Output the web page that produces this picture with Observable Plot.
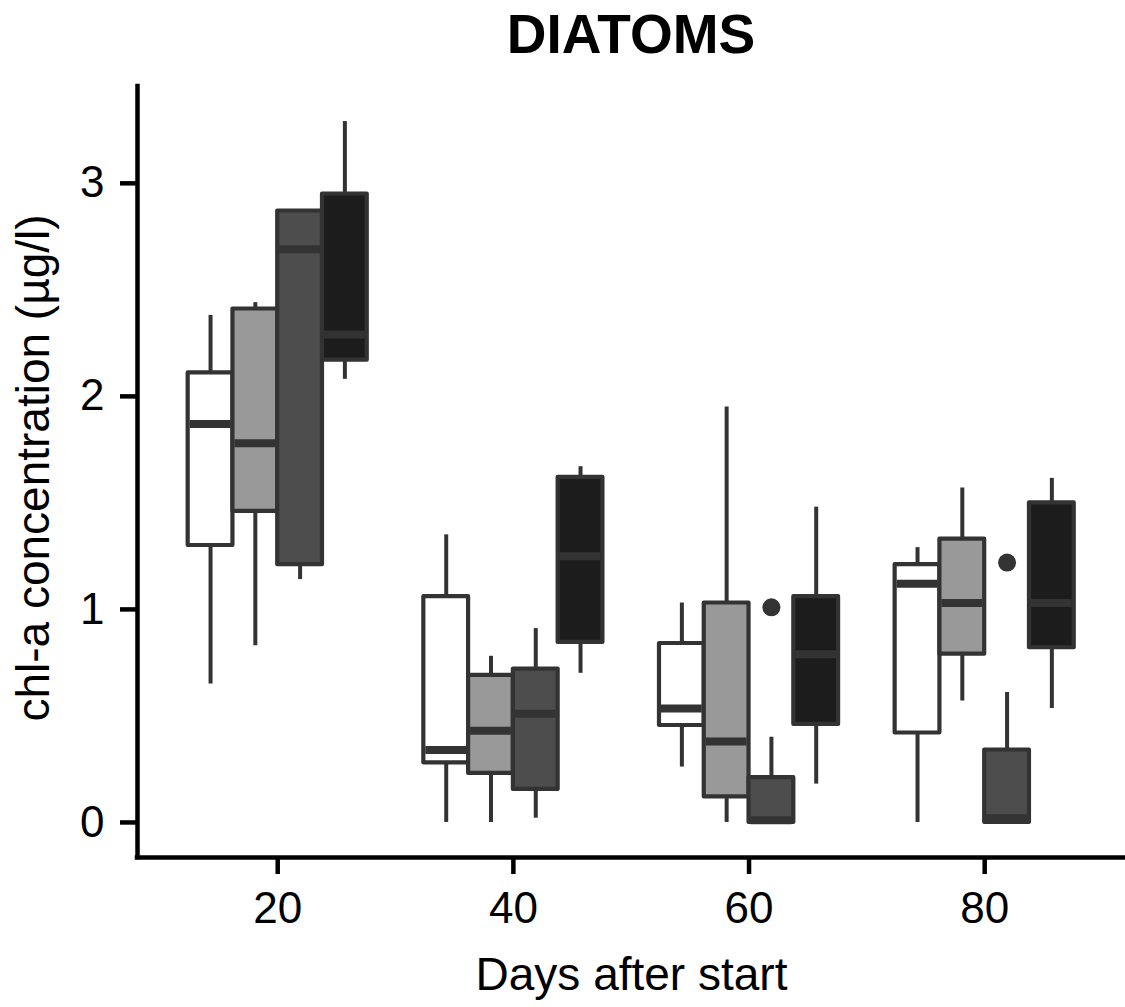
<!DOCTYPE html>
<html>
<head>
<meta charset="utf-8">
<script src="https://cdn.jsdelivr.net/npm/d3@7"></script>
<script src="https://cdn.jsdelivr.net/npm/@observablehq/plot@0.6"></script>
<style>
  html, body { margin: 0; padding: 0; background: #fff; }
  #wrap { width: 1125px; height: 1007px; position: relative; overflow: hidden; }
  #title {
    height: 75px; line-height: 68px; box-sizing: border-box;
    padding-left: 137px; text-align: center;
    font-family: "Liberation Sans", Arial, sans-serif; font-weight: bold; font-size: 55px; color: #000;
  }
  svg { display: block; }
</style>
</head>
<body>
<div id="wrap">
  <div id="title">DIATOMS</div>
  <div id="chart"></div>
</div>
<script>
// ---- data (rows = days, columns = treatments) ----
const days = [20, 40, 60, 80];
const treatments = ["T1", "T2", "T3", "T4"];
const whiskerLow = [
  [0.65, 0.83, 1.14, 2.08],
  [0.00, 0.00, 0.02, 0.70],
  [0.26, 0.00, 0.00, 0.18],
  [0.00, 0.57, 0.00, 0.535]
];
const quartile1 = [
  [1.30, 1.46, 1.21, 2.17],
  [0.28, 0.23, 0.155, 0.845],
  [0.455, 0.12, 0.00, 0.46],
  [0.42, 0.79, 0.00, 0.82]
];
const medians = [
  [1.87, 1.78, 2.69, 2.29],
  [0.34, 0.43, 0.51, 1.25],
  [0.535, 0.38, 0.01, 0.79],
  [1.12, 1.03, 0.02, 1.03]
];
const quartile3 = [
  [2.11, 2.41, 2.87, 2.95],
  [1.06, 0.69, 0.72, 1.62],
  [0.84, 1.03, 0.21, 1.06],
  [1.21, 1.33, 0.34, 1.50]
];
const whiskerHigh = [
  [2.38, 2.44, 2.87, 3.29],
  [1.35, 0.78, 0.91, 1.67],
  [1.03, 1.95, 0.40, 1.48],
  [1.29, 1.57, 0.61, 1.615]
];
const outlierDays = [60, 80];
const outlierTreatments = ["T3", "T3"];
const outlierValues = [1.01, 1.22];
const xTicks = [20, 40, 60, 80];
const yTicks = [0, 1, 2, 3];
const titleText = "DIATOMS";
const xLabel = "Days after start";
const yLabel = "chl-a concentration (µg/l)";

// ---- build table ----
const boxW = 3.8; // dodge width in x units
const nT = treatments.length;
const off = ti => (ti - (nT - 1) / 2) * boxW;
const boxes = [];
days.forEach((d, di) => treatments.forEach((t, ti) => boxes.push({
  day: d, treatment: t, xc: d + off(ti),
  lo: whiskerLow[di][ti], q1: quartile1[di][ti], med: medians[di][ti],
  q3: quartile3[di][ti], hi: whiskerHigh[di][ti]
})));
const outliers = outlierDays.map((d, i) => ({
  xc: d + off(treatments.indexOf(outlierTreatments[i])), value: outlierValues[i]
}));

const allY = boxes.flatMap(b => [b.lo, b.hi]).concat(outlierValues);
const yMin = d3.min(allY), yMax = d3.max(allY);
const yPad = (yMax - yMin) * 0.05;
const yDomain = [yMin - yPad, yMax + yPad];
const xDomain = [8.1, 91.95];

const font = "'Liberation Sans', Arial, sans-serif";
const lineCol = "#333333";

document.getElementById("title").textContent = titleText;

const chart = Plot.plot({
  width: 1125,
  height: 932,
  marginLeft: 137,
  marginRight: 0,
  marginTop: 11,
  marginBottom: 150,
  style: { fontFamily: font, background: "#fff", color: "#000", overflow: "visible" },
  x: { type: "linear", domain: xDomain, axis: null },
  y: { type: "linear", domain: yDomain, axis: null },
  color: { type: "ordinal", domain: treatments, range: ["#ffffff", "#999999", "#4d4d4d", "#1c1c1c"] },
  marks: [
    // whiskers
    Plot.ruleX(boxes, { x: "xc", y1: "lo", y2: "q1", stroke: lineCol, strokeWidth: 4 }),
    Plot.ruleX(boxes, { x: "xc", y1: "q3", y2: "hi", stroke: lineCol, strokeWidth: 4 }),
    // boxes
    Plot.rect(boxes, {
      x1: d => d.xc - boxW / 2, x2: d => d.xc + boxW / 2, y1: "q1", y2: "q3",
      fill: "treatment", stroke: lineCol, strokeWidth: 4.2, strokeLinejoin: "round"
    }),
    // medians
    Plot.ruleY(boxes, {
      y: "med", x1: d => d.xc - boxW / 2 + 0.17, x2: d => d.xc + boxW / 2 - 0.17,
      stroke: lineCol, strokeWidth: 8
    }),
    // outliers
    Plot.dot(outliers, { x: "xc", y: "value", r: 9, fill: lineCol, stroke: "none" }),
    // axis lines
    Plot.ruleX([xDomain[0]], { y1: yDomain[0], y2: yDomain[1], stroke: "#000", strokeWidth: 4.5, strokeLinecap: "square" }),
    Plot.ruleY([yDomain[0]], { x1: xDomain[0], x2: xDomain[1], stroke: "#000", strokeWidth: 4.5, strokeLinecap: "square" }),
    // axes ticks + labels
    Plot.axisX(xTicks, { tickSize: 17, tickPadding: 17, fontSize: 44, stroke: "#000", strokeWidth: 4.5, fill: "#000", label: null, tickFormat: d => String(d) }),
    Plot.axisY(yTicks, { tickSize: 17, tickPadding: 16, fontSize: 44, stroke: "#000", strokeWidth: 4.5, fill: "#000", label: null, tickFormat: d => String(d) }),
    // axis titles
    Plot.text([xLabel], { frameAnchor: "bottom", textAnchor: "middle", lineAnchor: "top", dy: 100, fontSize: 46, fill: "#000" }),
    Plot.text([yLabel], { frameAnchor: "left", textAnchor: "middle", rotate: -90, lineAnchor: "top", dx: -121, dy: -4, fontSize: 46, fill: "#000" })
  ]
});
document.getElementById("chart").appendChild(chart);
</script>
</body>
</html>
